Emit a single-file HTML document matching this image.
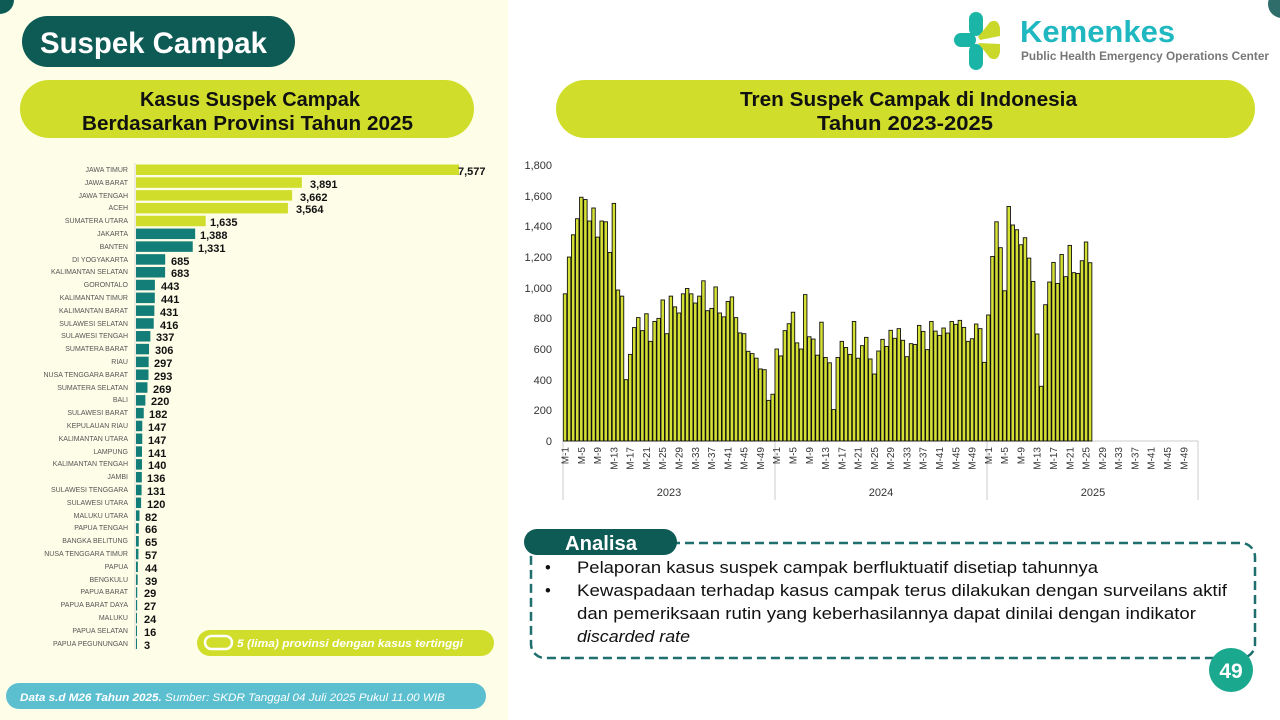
<!DOCTYPE html>
<html><head><meta charset="utf-8"><style>
html,body{margin:0;padding:0;width:1280px;height:720px;overflow:hidden;background:#fff}
svg{display:block}
text{font-family:"Liberation Sans",sans-serif}
.pl{font-size:7px;fill:#555;text-anchor:end}
.pv{font-size:11px;font-weight:bold;fill:#111}
.yt{font-size:11px;fill:#333;text-anchor:end}
.xt{font-size:10px;fill:#333;text-anchor:end}
</style></head><body>
<svg id="s" width="1280" height="720" xmlns="http://www.w3.org/2000/svg">
<rect x="0" y="0" width="508" height="720" fill="#fdfde8"/>
<circle cx="0" cy="0" r="14" fill="#0e5a55"/>
<circle cx="1282" cy="4" r="14" fill="#2e6d69"/>
<rect x="22" y="16" width="273" height="51" rx="25.5" fill="#0e5a55"/>
<text x="40" y="53" font-size="30" font-weight="bold" fill="#fff" textLength="227" lengthAdjust="spacingAndGlyphs">Suspek Campak</text>
<rect x="20" y="80" width="454" height="58" rx="29" fill="#d0de2b"/>
<text x="140" y="106" font-size="20" font-weight="bold" fill="#111" textLength="220" lengthAdjust="spacingAndGlyphs">Kasus Suspek Campak</text>
<text x="82" y="130" font-size="20" font-weight="bold" fill="#111" textLength="331" lengthAdjust="spacingAndGlyphs">Berdasarkan Provinsi Tahun 2025</text>
<rect x="556" y="80" width="699" height="58" rx="29" fill="#d0de2b"/>
<text x="740" y="106" font-size="20" font-weight="bold" fill="#111" textLength="337" lengthAdjust="spacingAndGlyphs">Tren Suspek Campak di Indonesia</text>
<text x="817" y="130" font-size="20" font-weight="bold" fill="#111" textLength="176" lengthAdjust="spacingAndGlyphs">Tahun 2023-2025</text>
<g transform="translate(976,40)">
<rect x="-22" y="-7" width="22" height="14" rx="7" fill="#1bb5a8"/>
<rect x="-7" y="-28" width="14" height="24" rx="7" fill="#1bb5a8"/>
<rect x="-7" y="4" width="14" height="26" rx="7" fill="#1bb5a8"/>
<path d="M2 -3 L14 -18 Q22 -22 24 -12 L24 -4 L4 0Z" fill="#c9d82b"/>
<path d="M2 3 L24 4 L24 12 Q22 22 14 18 Z" fill="#c9d82b"/>
</g>
<text x="1020" y="42" font-size="31" font-weight="bold" fill="#1fb8c0">Kemenkes</text>
<text x="1021" y="60" font-size="11.5" font-weight="bold" fill="#777" textLength="248" lengthAdjust="spacingAndGlyphs">Public Health Emergency Operations Center</text>
<g id="lb"></g>
<line x1="135" y1="163" x2="135" y2="650" stroke="#ddd" stroke-width="1"/>
<g>
<text class="pl" x="128" y="172">JAWA TIMUR</text>
<text class="pl" x="128" y="185">JAWA BARAT</text>
<text class="pl" x="128" y="198">JAWA TENGAH</text>
<text class="pl" x="128" y="210">ACEH</text>
<text class="pl" x="128" y="223">SUMATERA UTARA</text>
<text class="pl" x="128" y="236">JAKARTA</text>
<text class="pl" x="128" y="249">BANTEN</text>
<text class="pl" x="128" y="262">DI YOGYAKARTA</text>
<text class="pl" x="128" y="274">KALIMANTAN SELATAN</text>
<text class="pl" x="128" y="287">GORONTALO</text>
<text class="pl" x="128" y="300">KALIMANTAN TIMUR</text>
<text class="pl" x="128" y="313">KALIMANTAN BARAT</text>
<text class="pl" x="128" y="326">SULAWESI SELATAN</text>
<text class="pl" x="128" y="338">SULAWESI TENGAH</text>
<text class="pl" x="128" y="351">SUMATERA BARAT</text>
<text class="pl" x="128" y="364">RIAU</text>
<text class="pl" x="128" y="377">NUSA TENGGARA BARAT</text>
<text class="pl" x="128" y="390">SUMATERA SELATAN</text>
<text class="pl" x="128" y="402">BALI</text>
<text class="pl" x="128" y="415">SULAWESI BARAT</text>
<text class="pl" x="128" y="428">KEPULAUAN RIAU</text>
<text class="pl" x="128" y="441">KALIMANTAN UTARA</text>
<text class="pl" x="128" y="454">LAMPUNG</text>
<text class="pl" x="128" y="466">KALIMANTAN TENGAH</text>
<text class="pl" x="128" y="479">JAMBI</text>
<text class="pl" x="128" y="492">SULAWESI TENGGARA</text>
<text class="pl" x="128" y="505">SULAWESI UTARA</text>
<text class="pl" x="128" y="518">MALUKU UTARA</text>
<text class="pl" x="128" y="530">PAPUA TENGAH</text>
<text class="pl" x="128" y="543">BANGKA BELITUNG</text>
<text class="pl" x="128" y="556">NUSA TENGGARA TIMUR</text>
<text class="pl" x="128" y="569">PAPUA</text>
<text class="pl" x="128" y="582">BENGKULU</text>
<text class="pl" x="128" y="594">PAPUA BARAT</text>
<text class="pl" x="128" y="607">PAPUA BARAT DAYA</text>
<text class="pl" x="128" y="620">MALUKU</text>
<text class="pl" x="128" y="633">PAPUA SELATAN</text>
<text class="pl" x="128" y="646">PAPUA PEGUNUNGAN</text>
</g>
<g>
<text class="pv" x="458" y="175">7,577</text>
<text class="pv" x="310" y="188">3,891</text>
<text class="pv" x="300" y="201">3,662</text>
<text class="pv" x="296" y="213">3,564</text>
<text class="pv" x="210" y="226">1,635</text>
<text class="pv" x="200" y="239">1,388</text>
<text class="pv" x="198" y="252">1,331</text>
<text class="pv" x="171" y="265">685</text>
<text class="pv" x="171" y="277">683</text>
<text class="pv" x="161" y="290">443</text>
<text class="pv" x="161" y="303">441</text>
<text class="pv" x="160" y="316">431</text>
<text class="pv" x="160" y="329">416</text>
<text class="pv" x="156" y="341">337</text>
<text class="pv" x="155" y="354">306</text>
<text class="pv" x="154" y="367">297</text>
<text class="pv" x="154" y="380">293</text>
<text class="pv" x="153" y="393">269</text>
<text class="pv" x="151" y="405">220</text>
<text class="pv" x="149" y="418">182</text>
<text class="pv" x="148" y="431">147</text>
<text class="pv" x="148" y="444">147</text>
<text class="pv" x="148" y="457">141</text>
<text class="pv" x="148" y="469">140</text>
<text class="pv" x="147" y="482">136</text>
<text class="pv" x="147" y="495">131</text>
<text class="pv" x="147" y="508">120</text>
<text class="pv" x="145" y="521">82</text>
<text class="pv" x="145" y="533">66</text>
<text class="pv" x="145" y="546">65</text>
<text class="pv" x="145" y="559">57</text>
<text class="pv" x="145" y="572">44</text>
<text class="pv" x="145" y="585">39</text>
<text class="pv" x="144" y="597">29</text>
<text class="pv" x="144" y="610">27</text>
<text class="pv" x="144" y="623">24</text>
<text class="pv" x="144" y="636">16</text>
<text class="pv" x="144" y="649">3</text>
</g>
<rect x="197" y="630" width="297" height="26" rx="13" fill="#d0de2b"/>
<rect x="205" y="636" width="27" height="13" rx="6.5" fill="none" stroke="#fff" stroke-width="2.5"/>
<text x="237" y="647" font-size="11" font-weight="bold" font-style="italic" fill="#fff" textLength="226" lengthAdjust="spacingAndGlyphs">5 (lima) provinsi dengan kasus tertinggi</text>
<rect x="6" y="683" width="480" height="26" rx="13" fill="#5bbfd0"/>
<text x="20" y="701" font-size="11" font-style="italic" fill="#fff" textLength="425" lengthAdjust="spacingAndGlyphs"><tspan font-weight="bold">Data s.d M26 Tahun 2025.</tspan> Sumber: SKDR Tanggal 04 Juli 2025 Pukul 11.00 WIB</text>
<g>
<text class="yt" x="552" y="445">0</text>
<text class="yt" x="552" y="414">200</text>
<text class="yt" x="552" y="384">400</text>
<text class="yt" x="552" y="353">600</text>
<text class="yt" x="552" y="322">800</text>
<text class="yt" x="552" y="292">1,000</text>
<text class="yt" x="552" y="261">1,200</text>
<text class="yt" x="552" y="230">1,400</text>
<text class="yt" x="552" y="200">1,600</text>
<text class="yt" x="552" y="169">1,800</text>
</g>
<line x1="563" y1="441" x2="1198" y2="441" stroke="#ccc"/>
<line x1="563" y1="441" x2="563" y2="500" stroke="#ccc"/>
<line x1="775" y1="441" x2="775" y2="500" stroke="#ccc"/>
<line x1="987" y1="441" x2="987" y2="500" stroke="#ccc"/>
<line x1="1198" y1="441" x2="1198" y2="500" stroke="#ccc"/>
<g id="rb"></g>
<g id="xl"></g>
<text x="669" y="496" font-size="11" fill="#333" text-anchor="middle">2023</text>
<text x="881" y="496" font-size="11" fill="#333" text-anchor="middle">2024</text>
<text x="1093" y="496" font-size="11" fill="#333" text-anchor="middle">2025</text>
<rect x="531" y="543" width="724" height="115" rx="14" fill="none" stroke="#1f6f6e" stroke-width="2.5" stroke-dasharray="9 5"/>
<rect x="524" y="529" width="153" height="26" rx="13" fill="#0e5a55"/>
<text x="601" y="550" font-size="20" font-weight="bold" fill="#fff" text-anchor="middle" textLength="72" lengthAdjust="spacingAndGlyphs">Analisa</text>
<g font-size="16.5" fill="#111">
<text x="545" y="573">•</text><text x="577" y="573" textLength="521" lengthAdjust="spacingAndGlyphs">Pelaporan kasus suspek campak berfluktuatif disetiap tahunnya</text>
<text x="545" y="596">•</text><text x="577" y="596" textLength="650" lengthAdjust="spacingAndGlyphs">Kewaspadaan terhadap kasus campak terus dilakukan dengan surveilans aktif</text>
<text x="577" y="619" textLength="619" lengthAdjust="spacingAndGlyphs">dan pemeriksaan rutin yang keberhasilannya dapat dinilai dengan indikator</text>
<text x="577" y="642" font-style="italic" textLength="113" lengthAdjust="spacingAndGlyphs">discarded rate</text>
</g>
<circle cx="1231" cy="670" r="22" fill="#1aa88e"/>
<text x="1231" y="678" font-size="21" font-weight="bold" fill="#fff" text-anchor="middle">49</text>
</svg>
<script>
var NS="http://www.w3.org/2000/svg";
function R(g,x,y,w,h,f,s){var r=document.createElementNS(NS,"rect");r.setAttribute("x",x);r.setAttribute("y",y);r.setAttribute("width",w);r.setAttribute("height",h);r.setAttribute("fill",f);if(s){r.setAttribute("stroke",s);r.setAttribute("stroke-width","0.9");}g.appendChild(r);}
var lv=[7577,3891,3662,3564,1635,1388,1331,685,683,443,441,431,416,337,306,297,293,269,220,182,147,147,141,140,136,131,120,82,66,65,57,44,39,29,27,24,16,3];
var lb=document.getElementById("lb");
lv.forEach(function(v,i){var y=164.5+i*12.81;R(lb,136,y,Math.max(1,v*0.04263),10.5,i<5?"#d0de2b":"#137d78");});
var d=[960,1200,1345,1450,1590,1575,1435,1520,1330,1435,1430,1230,1550,985,945,400,565,740,805,720,830,650,780,800,920,700,945,875,835,960,995,960,900,945,1045,850,865,1005,835,810,910,940,805,705,700,585,570,540,470,465,265,305,
600,555,720,765,840,640,600,955,680,665,560,775,545,510,205,545,650,610,565,780,540,622,676,535,437,587,663,617,722,670,733,657,550,635,630,754,715,596,780,717,689,737,704,780,761,787,741,650,667,763,733,513,
822,1204,1430,1261,980,1530,1409,1378,1280,1326,1193,1041,698,357,889,1037,1165,1028,1217,1072,1276,1098,1093,1176,1298,1163];
var rb=document.getElementById("rb"),w=635/156;
d.forEach(function(v,i){var h=v*0.1533;R(rb,563+i*w+0.3,441-h,w-0.6,h,"#d4e034","#111");});
var xl=document.getElementById("xl");
for(var y=0;y<3;y++)for(var k=1;k<=49;k+=4){var cx=563+(y*52+k-0.5)*w+3.5;var t=document.createElementNS(NS,"text");t.setAttribute("class","xt");t.setAttribute("transform","translate("+cx+",447) rotate(-90)");t.textContent="M-"+k;xl.appendChild(t);}
</script>
</body></html>
